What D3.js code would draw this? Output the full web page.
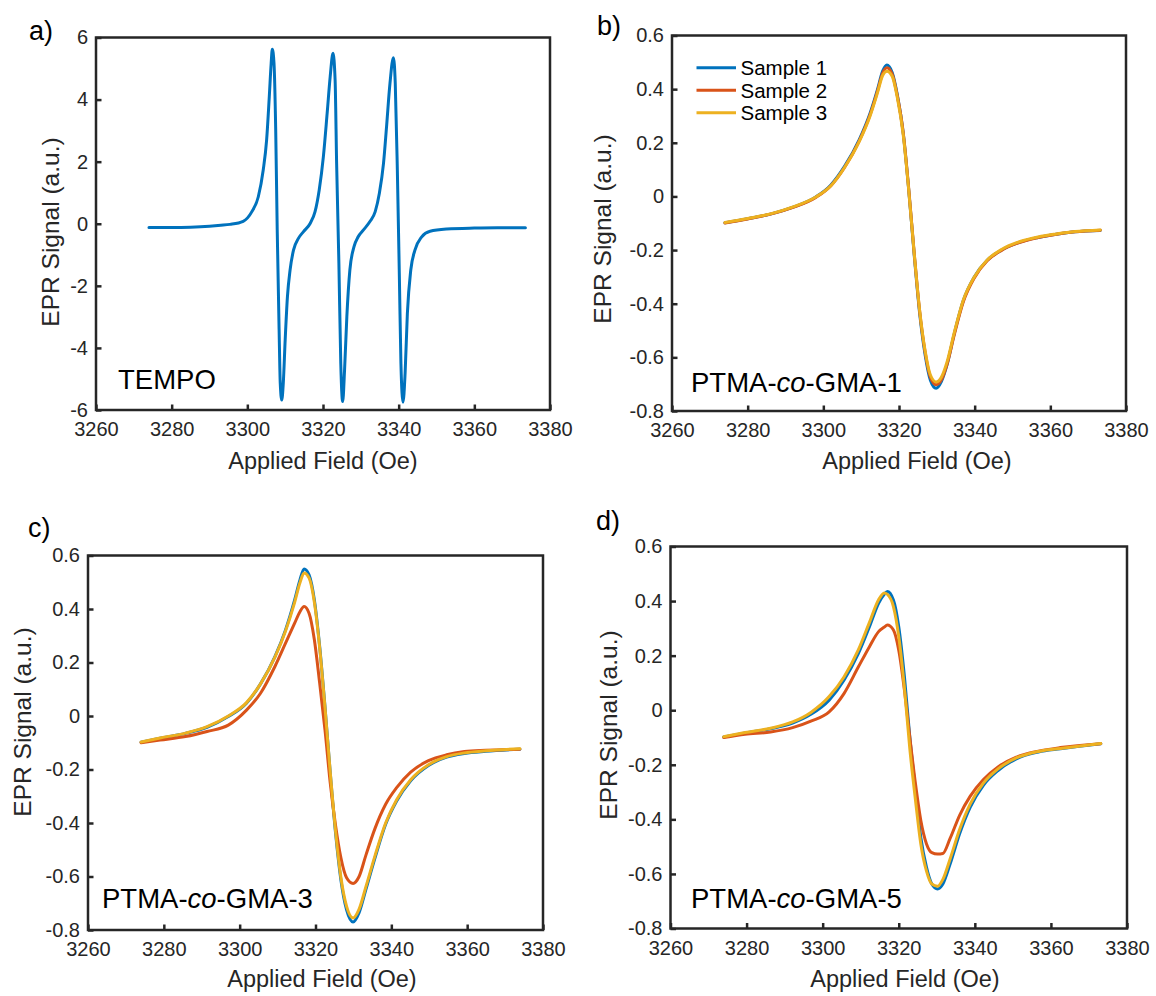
<!DOCTYPE html>
<html>
<head>
<meta charset="utf-8">
<script src="https://cdn.jsdelivr.net/npm/d3@7"></script>
<style>
  html, body { margin: 0; padding: 0; background: #ffffff; }
  svg { display: block; }
</style>
</head>
<body>
<svg id="fig" width="1156" height="996"></svg>
<script>
// ---------- shared axis values ----------
const fieldTicks = [3260, 3280, 3300, 3320, 3340, 3360, 3380];
const tempoTicks = [-6, -4, -2, 0, 2, 4, 6];
const polymerTicks = [-0.8, -0.6, -0.4, -0.2, 0, 0.2, 0.4, 0.6];
const sampleNames = ["Sample 1", "Sample 2", "Sample 3"];
const sampleColors = ["#0072BD", "#D95319", "#EDB120"];

// ---------- a) TEMPO ----------
const tempoField = [3274, 3280, 3285, 3290, 3293, 3295.4, 3298.9, 3301.2, 3302.9, 3304.2, 3305.1, 3305.8,
  3306.3, 3306.6, 3307.05, 3307.5, 3307.9, 3308.4, 3308.7, 3309.1, 3309.5, 3310.0, 3310.6, 3311.3, 3312.2,
  3313.5, 3314.8, 3316.6, 3317.9, 3319.0, 3320.1, 3321.1, 3321.9, 3322.65, 3323.2, 3323.6, 3324.2, 3324.7,
  3325.2, 3325.7, 3326.3, 3327.1, 3328.2, 3329.3, 3330.7, 3332.4, 3333.8, 3334.9, 3336.0, 3336.8, 3337.7,
  3338.6, 3339.1, 3339.65, 3340.2, 3340.6, 3341.15, 3341.7, 3342.3, 3343.2, 3344.3, 3346.1, 3348.3, 3352.7,
  3360, 3366, 3373.5];
const tempoSignal = [-0.12, -0.12, -0.11, -0.08, -0.05, -0.02, 0.08, 0.39, 0.87, 1.73, 2.70, 4.09,
  5.17, 5.62, 5.17, 3.02, -0.20, -3.42, -5.14, -5.68, -5.14, -3.75, -2.35, -1.49, -0.85,
  -0.47, -0.26, 0.01, 0.39, 1.09, 2.16, 3.56, 4.74, 5.49, 4.63, 1.95, -1.27, -4.50,
  -5.73, -4.71, -3.00, -1.49, -0.74, -0.42, -0.20, 0.07, 0.39, 0.98, 1.95, 3.13, 4.52,
  5.35, 4.52, 1.73, -1.81, -4.50, -5.75, -4.82, -2.89, -1.49, -0.85, -0.42, -0.24, -0.17,
  -0.14, -0.13, -0.13];

// ---------- b) PTMA-co-GMA-1 ----------
const gma1Field = [3274, 3280, 3286, 3292, 3298, 3302, 3305.6, 3309.5, 3312.4, 3314.3, 3315.7, 3316.8,
  3318.2, 3319.6, 3321.1, 3322.5, 3324.0, 3325.4, 3326.9, 3328.3, 3329.8, 3331.2, 3332.7, 3334.6, 3337.0,
  3339.9, 3343.3, 3347.1, 3352, 3356.8, 3361.6, 3366.5, 3373.2];
const gma1Sample1 = [-0.098, -0.083, -0.066, -0.040, -0.002, 0.043, 0.112, 0.212, 0.312, 0.398, 0.468, 0.490,
  0.462, 0.375, 0.238, 0.036, -0.215, -0.428, -0.590, -0.685, -0.715, -0.690, -0.627, -0.512, -0.388,
  -0.300, -0.238, -0.200, -0.170, -0.153, -0.141, -0.132, -0.127];
const gma1Sample2 = [-0.099, -0.084, -0.066, -0.041, -0.004, 0.040, 0.108, 0.207, 0.306, 0.392, 0.460, 0.480,
  0.456, 0.372, 0.240, 0.040, -0.208, -0.420, -0.580, -0.674, -0.702, -0.684, -0.626, -0.516, -0.393,
  -0.304, -0.240, -0.201, -0.171, -0.153, -0.141, -0.132, -0.126];
const gma1Sample3 = [-0.097, -0.082, -0.065, -0.039, -0.002, 0.040, 0.108, 0.205, 0.302, 0.386, 0.452, 0.467,
  0.448, 0.365, 0.232, 0.034, -0.210, -0.418, -0.575, -0.666, -0.692, -0.674, -0.617, -0.508, -0.386,
  -0.300, -0.237, -0.198, -0.168, -0.151, -0.140, -0.131, -0.125];

// ---------- c) PTMA-co-GMA-3 ----------
const gma3Field = [3274, 3279, 3285.7, 3291.4, 3297, 3301.8, 3305.5, 3309.3, 3312.1, 3314.5, 3315.9, 3317,
  3318.3, 3319.7, 3321.1, 3322.5, 3323.9, 3325.3, 3326.7, 3328.2, 3329.9, 3331.5, 3333.3, 3335.7, 3338.5,
  3341.4, 3345.1, 3349.8, 3354.6, 3359.3, 3364.9, 3373.9];
const gma3Sample1 = [-0.098, -0.083, -0.065, -0.042, -0.002, 0.048, 0.120, 0.222, 0.322, 0.434, 0.509, 0.550,
  0.528, 0.434, 0.260, 0.035, -0.214, -0.439, -0.613, -0.725, -0.770, -0.735, -0.648, -0.530, -0.405,
  -0.318, -0.242, -0.185, -0.154, -0.140, -0.132, -0.124];
const gma3Sample2 = [-0.100, -0.090, -0.077, -0.058, -0.034, 0.022, 0.085, 0.185, 0.272, 0.347, 0.390, 0.409,
  0.384, 0.285, 0.123, -0.052, -0.252, -0.410, -0.530, -0.605, -0.626, -0.600, -0.520, -0.420, -0.330,
  -0.268, -0.210, -0.167, -0.145, -0.133, -0.128, -0.124];
const gma3Sample3 = [-0.097, -0.082, -0.064, -0.040, 0.000, 0.050, 0.120, 0.220, 0.318, 0.425, 0.498, 0.535,
  0.516, 0.425, 0.255, 0.033, -0.212, -0.432, -0.603, -0.712, -0.755, -0.722, -0.638, -0.522, -0.400,
  -0.313, -0.238, -0.182, -0.152, -0.138, -0.130, -0.122];

// ---------- d) PTMA-co-GMA-5 ----------
const gma5Field = [3274, 3279.6, 3286.3, 3292.1, 3296.9, 3301.7, 3305.6, 3309.4, 3312.3, 3314.7, 3316.2, 3317,
  3318.6, 3320, 3321.5, 3322.9, 3324.4, 3325.8, 3327.3, 3328.7, 3330.2, 3331.6, 3333.5, 3336, 3338.8,
  3342.2, 3346.1, 3350.9, 3356.7, 3362.5, 3373.1];
const gma5Sample1 = [-0.098, -0.083, -0.068, -0.047, -0.015, 0.037, 0.110, 0.208, 0.306, 0.392, 0.425, 0.435,
  0.404, 0.306, 0.122, -0.098, -0.294, -0.466, -0.576, -0.637, -0.655, -0.637, -0.564, -0.453, -0.355,
  -0.276, -0.221, -0.178, -0.153, -0.141, -0.123];
const gma5Sample2 = [-0.100, -0.088, -0.080, -0.064, -0.040, -0.006, 0.061, 0.159, 0.233, 0.288, 0.305, 0.312,
  0.294, 0.220, 0.073, -0.098, -0.270, -0.404, -0.490, -0.522, -0.527, -0.525, -0.470, -0.385, -0.315,
  -0.255, -0.208, -0.172, -0.150, -0.137, -0.123];
const gma5Sample3 = [-0.097, -0.082, -0.066, -0.043, -0.008, 0.050, 0.122, 0.222, 0.322, 0.405, 0.430, 0.425,
  0.380, 0.270, 0.080, -0.140, -0.330, -0.490, -0.590, -0.637, -0.645, -0.620, -0.545, -0.437, -0.343,
  -0.268, -0.215, -0.175, -0.151, -0.140, -0.122];

// ---------- layout ----------
const FONT = "'Liberation Sans', Arial, Helvetica, sans-serif";
const AXIS_COLOR = "#262626";

const panels = [
  { letter: "a)", letterPos: [29, 40],
    box: { l: 96, r: 550, t: 37.5, b: 410 },
    yDomain: [-6, 6], yTicks: tempoTicks,
    xLabelPos: [323, 469], yLabelPos: [59, 232],
    name: ["TEMPO"], namePos: [118, 389],
    series: [{ x: tempoField, y: tempoSignal, color: sampleColors[0] }] },
  { letter: "b)", letterPos: [597, 35],
    box: { l: 672, r: 1126, t: 35.5, b: 411 },
    yDomain: [-0.8, 0.6], yTicks: polymerTicks,
    xLabelPos: [917, 469], yLabelPos: [611, 229],
    name: ["PTMA-", "co", "-GMA-1"], namePos: [691, 392],
    legend: true,
    series: [
      { x: gma1Field, y: gma1Sample1, color: sampleColors[0] },
      { x: gma1Field, y: gma1Sample2, color: sampleColors[1] },
      { x: gma1Field, y: gma1Sample3, color: sampleColors[2] }] },
  { letter: "c)", letterPos: [28, 537],
    box: { l: 88, r: 543, t: 555.5, b: 930 },
    yDomain: [-0.8, 0.6], yTicks: polymerTicks,
    xLabelPos: [322, 987], yLabelPos: [30.5, 722],
    name: ["PTMA-", "co", "-GMA-3"], namePos: [102, 908],
    series: [
      { x: gma3Field, y: gma3Sample1, color: sampleColors[0] },
      { x: gma3Field, y: gma3Sample2, color: sampleColors[1] },
      { x: gma3Field, y: gma3Sample3, color: sampleColors[2] }] },
  { letter: "d)", letterPos: [596, 530],
    box: { l: 670.5, r: 1127, t: 546.5, b: 928.5 },
    yDomain: [-0.8, 0.6], yTicks: polymerTicks,
    xLabelPos: [905, 987], yLabelPos: [616.5, 725],
    name: ["PTMA-", "co", "-GMA-5"], namePos: [691, 908],
    series: [
      { x: gma5Field, y: gma5Sample1, color: sampleColors[0] },
      { x: gma5Field, y: gma5Sample2, color: sampleColors[1] },
      { x: gma5Field, y: gma5Sample3, color: sampleColors[2] }] }
];

const svg = d3.select("#fig");
svg.append("rect").attr("width", 1156).attr("height", 996).attr("fill", "#ffffff");

const tickFormat = d => String(+(+d).toFixed(1));

panels.forEach(p => {
  const x = d3.scaleLinear().domain([3260, 3380]).range([p.box.l, p.box.r]);
  const y = d3.scaleLinear().domain(p.yDomain).range([p.box.b, p.box.t]);
  const g = svg.append("g");

  // x axis (ticks point inward)
  const xAxis = g.append("g")
    .attr("transform", `translate(0,${p.box.b})`)
    .call(d3.axisBottom(x).tickValues(fieldTicks).tickSizeInner(-5.5).tickSizeOuter(0)
      .tickPadding(12).tickFormat(tickFormat));
  // y axis
  const yAxis = g.append("g")
    .attr("transform", `translate(${p.box.l},0)`)
    .call(d3.axisLeft(y).tickValues(p.yTicks).tickSizeInner(-5.5).tickSizeOuter(0)
      .tickPadding(8).tickFormat(tickFormat));

  [xAxis, yAxis].forEach(ax => {
    ax.select(".domain").remove();
    ax.selectAll(".tick line").attr("stroke", AXIS_COLOR).attr("stroke-width", 2.5);
    ax.selectAll(".tick text")
      .attr("fill", AXIS_COLOR)
      .style("font-family", FONT)
      .style("font-size", "20px");
  });

  // data traces
  const line = d3.line()
    .x(d => x(d[0]))
    .y(d => y(d[1]))
    .curve(d3.curveMonotoneX);
  p.series.forEach(s => {
    g.append("path")
      .datum(s.x.map((v, i) => [v, s.y[i]]))
      .attr("d", line)
      .attr("fill", "none")
      .attr("stroke", s.color)
      .attr("stroke-width", 3)
      .attr("stroke-linejoin", "round")
      .attr("stroke-linecap", "round");
  });

  // axes box
  g.append("rect")
    .attr("x", p.box.l).attr("y", p.box.t)
    .attr("width", p.box.r - p.box.l).attr("height", p.box.b - p.box.t)
    .attr("fill", "none").attr("stroke", AXIS_COLOR).attr("stroke-width", 2.5);

  // axis titles
  g.append("text")
    .attr("x", p.xLabelPos[0]).attr("y", p.xLabelPos[1])
    .attr("text-anchor", "middle")
    .attr("fill", AXIS_COLOR)
    .style("font-family", FONT).style("font-size", "23.5px")
    .text("Applied Field (Oe)");
  g.append("text")
    .attr("transform", `translate(${p.yLabelPos[0]},${p.yLabelPos[1]}) rotate(-90)`)
    .attr("text-anchor", "middle")
    .attr("fill", AXIS_COLOR)
    .style("font-family", FONT).style("font-size", "24.5px")
    .text("EPR Signal (a.u.)");

  // panel letter
  g.append("text")
    .attr("x", p.letterPos[0]).attr("y", p.letterPos[1])
    .attr("fill", "#000")
    .style("font-family", FONT).style("font-size", "27px")
    .text(p.letter);

  // sample name inside the axes
  const nameText = g.append("text")
    .attr("x", p.namePos[0]).attr("y", p.namePos[1])
    .attr("fill", "#000")
    .style("font-family", FONT).style("font-size", "27.5px");
  p.name.forEach((part, i) => {
    nameText.append("tspan")
      .style("font-style", i === 1 ? "italic" : "normal")
      .text(part);
  });

  // legend
  if (p.legend) {
    const rows = [67.7, 90.3, 112.7];
    sampleNames.forEach((nm, i) => {
      g.append("line")
        .attr("x1", 696.5).attr("x2", 736)
        .attr("y1", rows[i]).attr("y2", rows[i])
        .attr("stroke", sampleColors[i]).attr("stroke-width", 3);
      g.append("text")
        .attr("x", 740.5).attr("y", rows[i] + 7.3)
        .attr("fill", "#000")
        .style("font-family", FONT).style("font-size", "20.5px")
        .text(nm);
    });
  }
});
</script>
</body>
</html>
